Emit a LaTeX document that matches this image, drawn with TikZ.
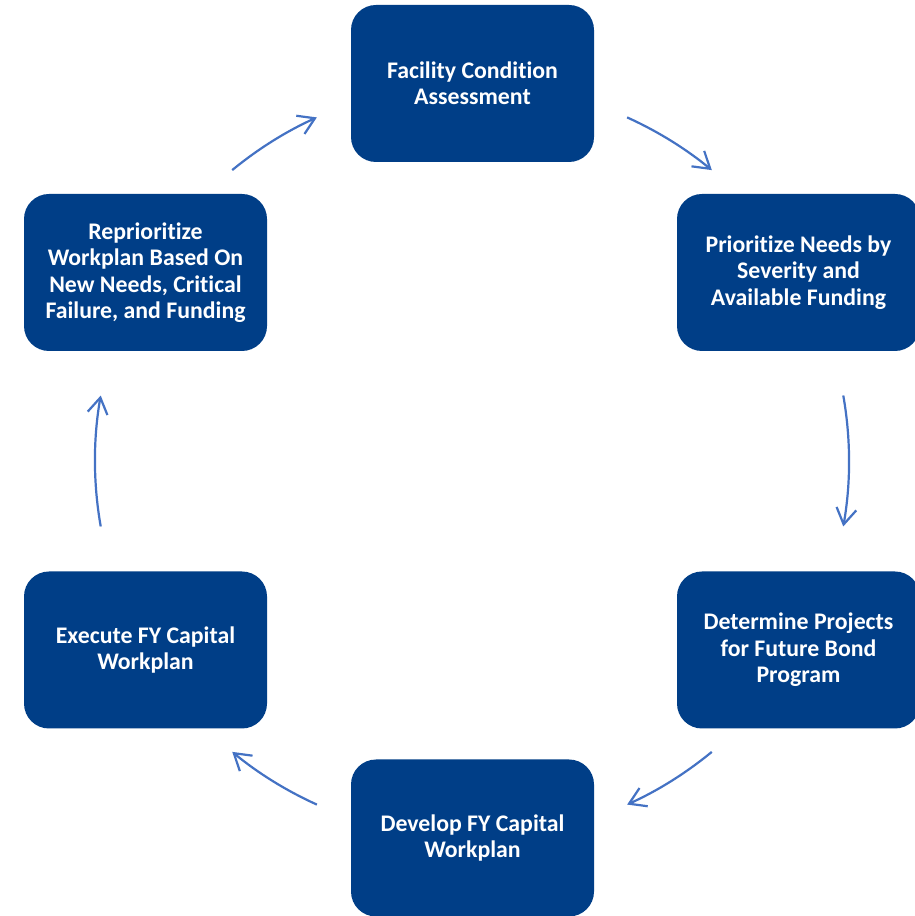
\documentclass[tikz,border=0pt]{standalone}
\usepackage{fontspec}
\setmainfont{Carlito}[Ligatures={NoCommon}]
\usetikzlibrary{arrows.meta}
\definecolor{boxblue}{RGB}{0,62,135}
\definecolor{arrowblue}{RGB}{68,114,196}
\tikzset{
  stagebox/.style={rectangle, rounded corners=25pt, fill=boxblue, draw=none,
    minimum width=243pt, minimum height=157pt, text=white, align=center,
    font=\fontsize{23.8pt}{26.4pt}\selectfont\bfseries, inner sep=0pt},
  cyclearrow/.style={draw=arrowblue, line width=2.2pt,
    -{Straight Barb[length=16pt,width=20pt,line width=2.2pt]}}
}
\begin{document}
\begin{tikzpicture}[x=1pt,y=1pt]
\useasboundingbox (0,0) rectangle (915,916);
\fill[white] (0,0) rectangle (915,916);
\node[stagebox] (fca) at (472.5,832.5) {Facility Condition\\Assessment};
\node[stagebox] (pri) at (798.5,643.5) {Prioritize Needs by\\Severity and\\Available Funding};
\node[stagebox] (det) at (798.5,266) {Determine Projects\\for Future Bond\\Program};
\node[stagebox] (dev) at (472.5,78) {Develop FY Capital\\Workplan};
\node[stagebox] (exe) at (145.5,266) {Execute FY Capital\\Workplan};
\node[stagebox] (rep) at (145.5,643.5) {Reprioritize\\Workplan Based On\\New Needs, Critical\\Failure, and Funding};
\coordinate (ctr) at (472,455);
\draw[cyclearrow] ([shift={(ctr)}]65.7:377) arc[start angle=65.7, end angle=50.5, radius=377];
\draw[cyclearrow] ([shift={(ctr)}]10:377) arc[start angle=10, end angle=-10, radius=377];
\draw[cyclearrow] ([shift={(ctr)}]-50.5:377) arc[start angle=-50.5, end angle=-65.7, radius=377];
\draw[cyclearrow] ([shift={(ctr)}]-114.3:377) arc[start angle=-114.3, end angle=-129.5, radius=377];
\draw[cyclearrow] ([shift={(ctr)}]-170:377) arc[start angle=-170, end angle=-190, radius=377];
\draw[cyclearrow] ([shift={(ctr)}]129.5:377) arc[start angle=129.5, end angle=114.3, radius=377];
\end{tikzpicture}
\end{document}
